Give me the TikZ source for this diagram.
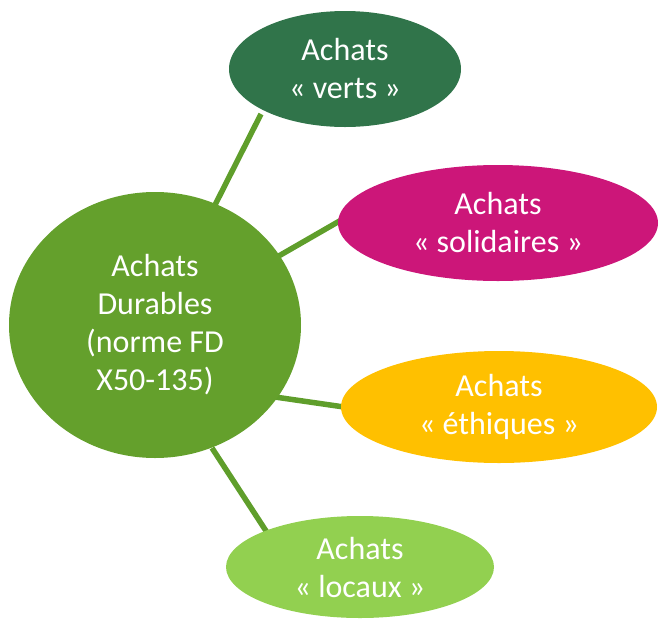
\documentclass[tikz,border=0pt]{standalone}
\usepackage{fontspec}
\setmainfont{Carlito}
\usetikzlibrary{shapes.geometric,backgrounds,calc}
\definecolor{cgreen}{HTML}{64A02C}
\definecolor{cverts}{HTML}{30744A}
\definecolor{csol}{HTML}{CC1679}
\definecolor{ceth}{HTML}{FFC000}
\definecolor{cloc}{HTML}{92D050}
\definecolor{cline}{HTML}{5F9E2B}
\begin{document}
\begin{tikzpicture}[x=1pt,y=-1pt,
  blob/.style={ellipse,draw=none,text=white,align=center,inner sep=0pt,
    font=\fontsize{32}{38}\selectfont},
  link/.style={draw=cline,line width=5.5pt}]
\useasboundingbox (0,0) rectangle (659,619);
\node[blob,fill=cgreen,minimum width=292pt,minimum height=266pt] (c) at (155,325) {Achats\\Durables\\(norme FD\\X50-135)};
\node[blob,fill=cverts,minimum width=232pt,minimum height=116pt] (v) at (345,69) {Achats\\« verts »};
\node[blob,fill=csol,minimum width=320pt,minimum height=116pt] (s) at (498,223) {Achats\\« solidaires »};
\node[blob,fill=ceth,minimum width=316pt,minimum height=112pt] (e) at (499,407) {Achats\\« éthiques »};
\node[blob,fill=cloc,minimum width=268pt,minimum height=102pt] (l) at (360,567) {Achats\\« locaux »};
\begin{scope}[on background layer]
\draw[link] ($(c.center)+(60,-120)$) -- ($(v.center)+(-84,45)$);
\draw[link] ($(c.center)+(122,-68)$) -- ($(s.center)+(-155,-4)$);
\draw[link] ($(c.center)+(120,72)$) -- ($(e.center)+(-155,0)$);
\draw[link] ($(c.center)+(57,123)$) -- ($(l.center)+(-92,-33)$);
\end{scope}
\end{tikzpicture}
\end{document}
